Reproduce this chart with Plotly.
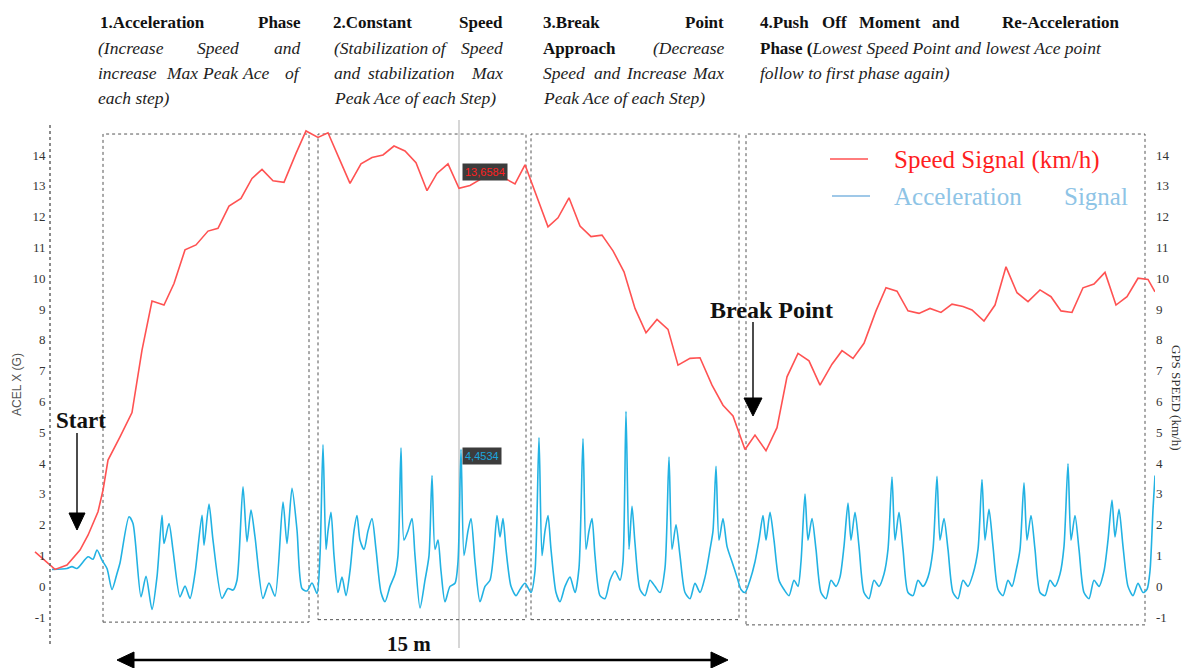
import plotly.graph_objects as go

# ---------------- data ----------------
# GPS speed signal (km/h) vs sample number
speed_t = [35, 55, 67, 80, 88, 98, 103, 108, 120, 132, 142, 152, 164, 174, 185, 196, 208, 218, 229, 241,
           252, 262, 273, 284, 296, 306, 318, 328, 339, 350, 361, 372, 383, 394, 405, 416, 427, 437, 448, 459,
           470, 482, 493, 505, 515, 525, 548, 558, 569, 580, 591, 602, 613, 624, 635, 646, 657, 668, 678, 690,
           700, 712, 723, 733, 745, 755, 766, 777, 787, 798, 809, 820, 832, 842, 853, 864, 876, 886, 897, 908,
           919, 930, 941, 952, 963, 972, 984, 995, 1006, 1017, 1028, 1040, 1051, 1061, 1072, 1083, 1094, 1105, 1116, 1127,
           1138, 1148, 1155]
speed_v = [1.12, 0.55, 0.69, 1.18, 1.66, 2.42, 3.12, 4.10, 4.85, 5.64, 7.67, 9.26, 9.13, 9.83, 10.92, 11.08, 11.53, 11.62, 12.34, 12.59,
           13.24, 13.53, 13.16, 13.11, 14.05, 14.78, 14.57, 14.72, 13.90, 13.08, 13.71, 13.92, 14.00, 14.29, 14.13, 13.75, 12.84, 13.40, 13.71, 12.92,
           13.01, 13.24, 13.35, 13.24, 13.06, 13.68, 11.67, 11.96, 12.61, 11.69, 11.35, 11.40, 10.89, 10.21, 9.02, 8.23, 8.66, 8.34, 7.18, 7.40,
           7.42, 6.53, 5.88, 5.53, 4.44, 4.91, 4.40, 5.15, 6.80, 7.56, 7.32, 6.53, 7.21, 7.65, 7.40, 7.89, 8.94, 9.69, 9.58, 8.94,
           8.86, 9.02, 8.89, 9.16, 9.08, 8.97, 8.61, 9.13, 10.37, 9.53, 9.24, 9.62, 9.40, 8.94, 8.89, 9.69, 9.81, 10.19, 9.13, 9.40,
           10.00, 9.96, 9.56]

# Acceleration X signal (G) vs sample number
acc_t = [52, 67, 72, 77, 88, 93, 97, 102, 107, 112, 117, 120, 129, 133, 141, 146, 152, 157, 162, 164,
         169, 173, 180, 185, 190, 195, 202, 204, 209, 213, 222, 228, 233, 237, 243, 247, 251, 255, 263, 269,
         275, 283, 287, 292, 297, 302, 307, 312, 317,
         320, 323, 326, 328, 331, 334, 338, 342, 346, 350, 354, 357, 360, 364, 368, 372, 376, 381, 385, 390,
         395, 398, 401, 404, 408, 412, 415, 420, 425, 429, 432, 435, 438, 441, 445, 450, 455, 458, 461, 464,
         468, 471, 475, 480, 485, 490, 494, 497, 500, 503, 506, 511, 516, 520, 525,
         531, 535, 539, 542, 545, 548, 551, 556, 560, 565, 570, 575, 579, 583, 586, 589, 592, 595, 600, 605,
         610, 615, 620, 623, 626, 629, 632, 635, 640, 645, 650, 655, 660, 665, 669, 672, 676, 680, 685, 690,
         695, 700, 705, 710, 713, 716, 719, 723, 727, 732, 737, 741,
         745, 750, 755, 759, 763, 766, 770, 774, 779, 784, 789, 794, 798, 801, 805, 808, 812, 816, 821, 826,
         831, 836, 840, 844, 848, 851, 855, 859, 864, 869, 874, 879, 884, 888, 892, 895, 899, 903, 908, 913,
         918, 923, 928, 933, 937, 940, 944, 948, 953, 958, 963, 968, 973, 978, 982, 985, 989, 993, 998, 1003,
         1008, 1012, 1016, 1020, 1024, 1027, 1031, 1035, 1040, 1045, 1050, 1055, 1060, 1064, 1068, 1071, 1075, 1079, 1084, 1089,
         1094, 1099, 1104, 1108, 1112, 1115, 1119, 1123, 1128, 1133, 1138, 1143, 1147, 1150, 1153, 1155]
acc_v = [0.55, 0.58, 0.64, 0.58, 0.96, 0.88, 1.18, 0.85, 0.58, -0.10, 0.42, 0.76, 2.26, 2.04, -0.34, 0.33, -0.75, 0.31, 2.31, 1.39,
         2.04, 1.18, -0.34, 0.01, -0.39, 0.42, 2.31, 1.34, 2.67, 1.50, -0.39, -0.07, -0.12, 0.20, 3.23, 1.45, 2.48, 1.61, -0.39, 0.11,
         -0.32, 2.74, 1.39, 3.18, 1.83, -0.07, -0.15, 0.11, -0.23,
         1.0, 4.6, 1.2, 1.8, 2.4, 1.0, -0.2, 0.3, -0.3, 0.5, 1.8, 2.3, 1.5, 1.2, 1.8, 2.2, 1.2, -0.2, -0.5, 0.0,
         0.4, 1.0, 4.5, 1.5, 1.8, 2.2, 1.0, -0.7, 0.2, 1.0, 3.6, 1.2, 1.5, 0.5, -0.5, 0.0, 0.1, 0.8, 4.45, 1.0,
         1.8, 2.2, 0.8, -0.5, 0.0, 0.2, 1.2, 2.3, 1.6, 2.2, 1.2, 0.0, -0.3, -0.1, 0.1,
         -0.2, 0.5, 4.83, 1.0, 1.8, 2.3, 1.2, -0.2, -0.5, 0.0, 0.3, -0.2, 0.6, 4.8, 1.2, 1.8, 2.2, 1.0, -0.3, -0.4,
         0.2, 0.5, 0.2, 0.8, 5.68, 1.2, 2.6, 1.4, -0.1, -0.3, 0.2, 0.0, -0.2, 0.6, 4.2, 1.2, 2.0, 1.0, -0.2, -0.4,
         0.1, -0.2, 0.3, 1.2, 1.8, 3.9, 1.5, 2.2, 1.3, 0.8, 0.3, -0.1,
         -0.2, 0.2, 0.8, 1.5, 2.3, 1.5, 2.4, 1.5, 0.2, -0.1, -0.3, 0.2, 0.0, 0.8, 3.0, 1.5, 2.2, 1.2, -0.2, -0.4,
         0.2, 0.0, 0.3, 1.3, 2.7, 1.5, 2.4, 1.3, -0.2, -0.4, 0.2, 0.0, 0.4, 1.2, 3.55, 1.5, 2.4, 1.2, -0.2, -0.3,
         0.2, 0.0, 0.3, 1.2, 3.57, 1.5, 2.2, 1.2, -0.2, -0.4, 0.2, 0.0, 0.4, 1.2, 3.47, 1.5, 2.5, 1.3, -0.1, -0.3,
         0.2, 0.0, 0.5, 1.2, 3.36, 1.5, 2.3, 1.2, -0.2, -0.3, 0.2, 0.0, 0.4, 1.3, 3.98, 1.5, 2.3, 1.2, -0.2, -0.4,
         0.2, 0.0, 0.5, 1.5, 2.8, 1.6, 2.5, 1.3, 0.0, -0.3, 0.1, -0.2, -0.1, 0.5, 2.5, 3.6]

tick_vals = list(range(-1, 15))
tick_text = [str(v) for v in tick_vals]

# phase boxes (sample range)
phase_start = [103, 318, 531, 746]
phase_end = [309, 526, 739, 1145]

cursor_sample = 459
cursor_speed_label = "13,6584"
cursor_acc_label = "4,4534"

# ---------------- layout geometry ----------------
W, H = 1187, 668
L, R, T, B = 33, 1155, 118, 648
YMIN, YMAX = -2.0, 15.2


def px(x):
    return (x - L) / (R - L)


def py(y):
    return (B - y) / (B - T)


RED = "#ff5252"
BLUE = "#22b2e3"
SERIF = "Liberation Serif"

fig = go.Figure()
fig.add_trace(go.Scatter(x=acc_t, y=acc_v, mode="lines", name="Acceleration Signal",
                         line=dict(color=BLUE, width=1.6, shape="spline", smoothing=0.7),
                         yaxis="y", showlegend=False, hoverinfo="skip"))
fig.add_trace(go.Scatter(x=speed_t, y=speed_v, mode="lines", name="Speed Signal (km/h)",
                         line=dict(color=RED, width=1.6), yaxis="y2", showlegend=False, hoverinfo="skip"))

shapes = []
box_bottom = [-1.16, -1.08, -1.08, -1.25]
for x0, x1, yb in zip(phase_start, phase_end, box_bottom):
    shapes.append(dict(type="rect", xref="x", yref="y", x0=x0, x1=x1, y0=yb, y1=14.68,
                       line=dict(color="#555555", width=1, dash="dot"), fillcolor="rgba(0,0,0,0)", layer="below"))
shapes.append(dict(type="line", xref="paper", yref="paper", x0=px(50), x1=px(50), y0=py(125), y1=py(646),
                   line=dict(color="#666666", width=1.5, dash="dot")))
shapes.append(dict(type="line", xref="x", yref="paper", x0=cursor_sample, x1=cursor_sample, y0=py(120), y1=py(648),
                   line=dict(color="#d6d6d6", width=2), layer="below"))


def down_arrow(x, y0, y1, hw, hh):
    shapes.append(dict(type="line", xref="paper", yref="paper", x0=px(x), x1=px(x), y0=py(y0), y1=py(y1 - hh + 2),
                       line=dict(color="#111111", width=1.5)))
    path = f"M {px(x - hw)},{py(y1 - hh)} L {px(x + hw)},{py(y1 - hh)} L {px(x)},{py(y1)} Z"
    shapes.append(dict(type="path", xref="paper", yref="paper", path=path, fillcolor="#000000",
                       line=dict(color="#000000", width=1)))


down_arrow(77, 433, 530, 8, 17)
down_arrow(753, 322, 416, 9, 18)

ya = 660
shapes.append(dict(type="line", xref="paper", yref="paper", x0=px(130), x1=px(715), y0=py(ya), y1=py(ya),
                   line=dict(color="#000000", width=2.5)))
shapes.append(dict(type="path", xref="paper", yref="paper",
                   path=f"M {px(117)},{py(ya)} L {px(134)},{py(ya - 8)} L {px(134)},{py(ya + 8)} Z",
                   fillcolor="#000000", line=dict(color="#000000", width=1)))
shapes.append(dict(type="path", xref="paper", yref="paper",
                   path=f"M {px(728)},{py(ya)} L {px(711)},{py(ya - 8)} L {px(711)},{py(ya + 8)} Z",
                   fillcolor="#000000", line=dict(color="#000000", width=1)))

shapes.append(dict(type="line", xref="paper", yref="paper", x0=px(830), x1=px(868), y0=py(159), y1=py(159),
                   line=dict(color=RED, width=1.6)))
shapes.append(dict(type="line", xref="paper", yref="paper", x0=px(832), x1=px(870), y0=py(196), y1=py(196),
                   line=dict(color="#7fb6e0", width=1.6)))

ann = []


def text(x, y, s, anchor="left", size=17, color="#111111", family=SERIF, **kw):
    d = dict(xref="paper", yref="paper", x=px(x), y=py(y), text=s, showarrow=False, xanchor=anchor,
             yanchor="middle", font=dict(family=family, size=size, color=color))
    d.update(kw)
    ann.append(d)


def b(x, y, s, anchor="left"):
    text(x, y, "<b>" + s + "</b>", anchor, size=17)


def it(x, y, s, anchor="left"):
    text(x, y, "<i>" + s + "</i>", anchor, size=17.5, color="#222222")


Y1, Y2, Y3, Y4 = 22, 48, 73, 98
# column 1
b(98, Y1, "1.Acceleration"); b(303, Y1, "Phase", "right")
it(96, Y2, "(Increase"); it(195, Y2, "Speed"); it(303, Y2, "and", "right")
it(96, Y3, "increase"); it(164, Y3, "Max"); it(200, Y3, "Peak"); it(240, Y3, "Ace"); it(303, Y3, "of", "right")
it(96, Y4, "each step)")
# column 2
b(331, Y1, "2.Constant"); b(505, Y1, "Speed", "right")
it(332, Y2, "(Stabilization"); it(430, Y2, "of"); it(505, Y2, "Speed", "right")
it(332, Y3, "and"); it(366, Y3, "stabilization"); it(505, Y3, "Max", "right")
it(332, Y4, "Peak Ace of each Step)")
# column 3
b(541, Y1, "3.Break"); b(726, Y1, "Point", "right")
b(541, Y2, "Approach"); it(726, Y2, "(Decrease", "right")
it(541, Y3, "Speed"); it(592, Y3, "and"); it(624, Y3, "Increase"); it(726, Y3, "Max", "right")
it(541, Y4, "Peak Ace of each Step)")
# column 4
b(758, Y1, "4.Push"); b(820, Y1, "Off"); b(857, Y1, "Moment"); b(930, Y1, "and")
b(1122, Y1, "Re-Acceleration", "right")
text(758, Y2, "<b>Phase (</b><i><span style='font-size:17.5px;color:#222222'>Lowest Speed Point and lowest Ace point</span></i>",
     size=17)
it(758, Y3, "follow to first phase again)")

# legend texts
text(892, 160, "Speed Signal (km/h)", size=25, color="#ff1f1f")
text(892, 196, "Acceleration", size=25, color="#8ec4e6")
text(1130, 196, "Signal", "right", size=25, color="#8ec4e6")

# annotations on plot
text(81, 420, "<b>Start</b>", "center", size=23)
text(771, 310, "<b>Break Point</b>", "center", size=24)
text(409, 644, "<b>15 m</b>", "center", size=21)

text(462, 172, cursor_speed_label, size=11, color="#ff2020", family="Liberation Sans",
     bgcolor="#3c3c3c", borderpad=2)
text(462, 456, cursor_acc_label, size=11, color="#1aa6dc", family="Liberation Sans",
     bgcolor="#3c3c3c", borderpad=2)

text(17, 385, "ACEL X (G)", "center", size=12, color="#555555", family="Liberation Sans", textangle=-90)
text(1177, 397, "GPS SPEED (km/h)", "center", size=13, color="#333333", family=SERIF, textangle=90)

fig.update_layout(
    width=W, height=H,
    margin=dict(l=L, r=W - R, t=T, b=H - B),
    paper_bgcolor="white", plot_bgcolor="white",
    showlegend=False,
    xaxis=dict(range=[L, R], showgrid=False, zeroline=False, showticklabels=False, showline=False, ticks=""),
    yaxis=dict(range=[YMIN, YMAX], tickvals=tick_vals, ticktext=tick_text, showgrid=False, zeroline=False,
               showline=False, ticks="", anchor="free", position=px(50) - 0.004,
               tickfont=dict(family=SERIF, size=13, color="#333333")),
    yaxis2=dict(range=[YMIN, YMAX], tickvals=tick_vals, ticktext=tick_text, overlaying="y", side="right",
                showgrid=False, zeroline=False, showline=False, ticks="", anchor="free", position=1.0,
                tickfont=dict(family=SERIF, size=13, color="#333333")),
    shapes=shapes,
    annotations=ann,
)

fig.write_html("out.html", config={"displayModeBar": False},
               post_script="document.body.style.margin='0px';")
